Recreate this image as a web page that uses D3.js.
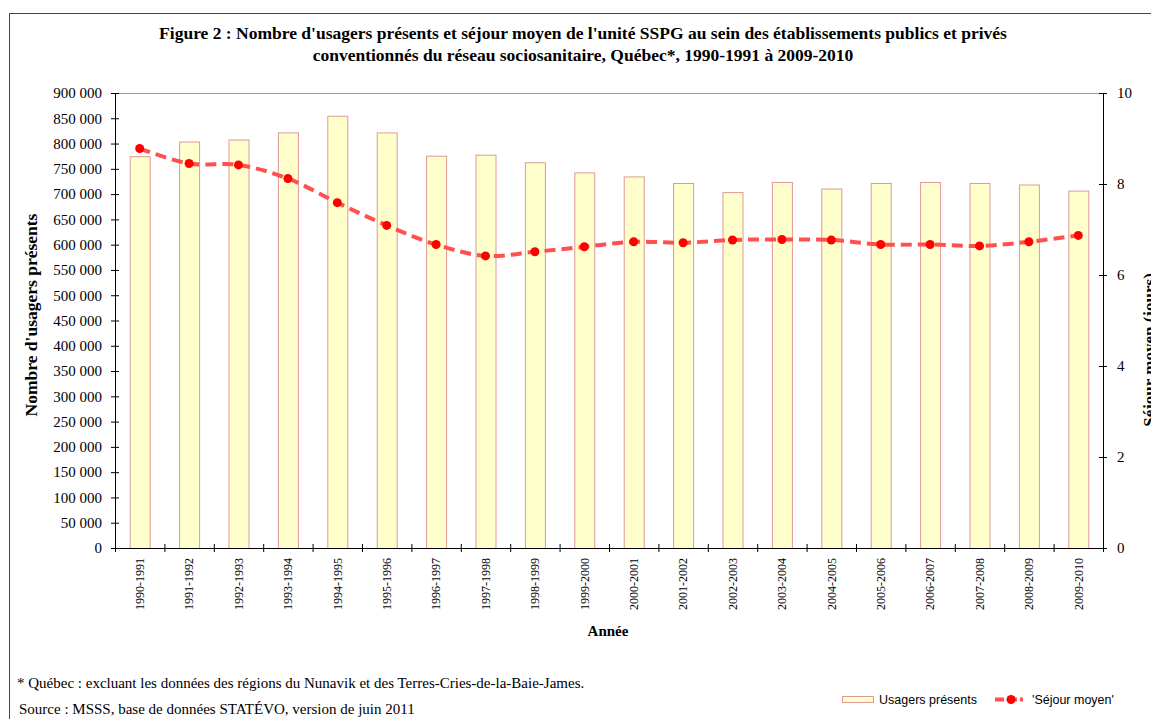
<!DOCTYPE html>
<html>
<head>
<meta charset="utf-8">
<script src="https://cdn.jsdelivr.net/npm/d3@7"></script>
<style>
body{margin:0;background:#fff;}
svg{display:block;}
</style>
</head>
<body>
<div id="chart"></div>
<script>
// data
var annees=['1990-1991','1991-1992','1992-1993','1993-1994','1994-1995','1995-1996','1996-1997','1997-1998','1998-1999','1999-2000',
    '2000-2001','2001-2002','2002-2003','2003-2004','2004-2005','2005-2006','2006-2007','2007-2008','2008-2009','2009-2010'];
var usagers=[775000,804000,808000,822000,855000,822000,776000,778000,763000,743000,
    735000,722000,704000,724000,711000,722000,724000,722000,719000,707000];
var sejour=[8.78,8.45,8.42,8.12,7.59,7.09,6.67,6.42,6.51,6.62,
    6.73,6.71,6.77,6.78,6.77,6.67,6.67,6.64,6.73,6.87];
var ticksGauche=d3.range(0,900001,50000);
var ticksDroite=[0,2,4,6,8,10];

var width=1151,
    height=719,
    pLeft=115,pRight=1103,pTop=93,pBottom=548;

var serif="'Liberation Serif','Times New Roman',serif";
var sans="'Liberation Sans',Arial,sans-serif";

var fr=d3.formatLocale({decimal:",",thousands:" ",grouping:[3],currency:["","$"]});
var fmt=fr.format(",d");

var vis=d3.select("#chart").append("svg")
    .attr("width",width)
    .attr("height",height);

// outer frame
vis.append("rect")
    .attr("x",9.5).attr("y",13.5)
    .attr("width",1160).attr("height",720)
    .attr("fill","none")
    .attr("stroke","#444")
    .attr("stroke-width",1);

var x=d3.scaleBand().domain(annees).range([pLeft,pRight]);
var yL=d3.scaleLinear().domain([0,900000]).range([pBottom,pTop]);
var yR=d3.scaleLinear().domain([0,10]).range([pBottom,pTop]);

// top border of plot area
vis.append("line")
    .attr("x1",pLeft).attr("x2",pRight)
    .attr("y1",pTop+0.5).attr("y2",pTop+0.5)
    .attr("stroke","#999");

// bars
var barW=20;
vis.selectAll(".bar")
    .data(usagers)
  .enter()
    .append("rect")
    .attr("class","bar")
    .attr("x",function(d,i){return x(annees[i])+x.bandwidth()/2-barW/2+0.5;})
    .attr("y",function(d){return yL(d)+0.5;})
    .attr("width",barW)
    .attr("height",function(d){return pBottom-yL(d);})
    .attr("fill","#ffffcc")
    .attr("stroke","#e09898")
    .attr("stroke-width",1);

// axes
var axG=vis.append("g")
    .attr("transform","translate("+pLeft+",0)")
    .call(d3.axisLeft(yL).tickValues(ticksGauche).tickFormat(fmt).tickSizeInner(4).tickSizeOuter(0));
axG.selectAll(".tick line").attr("x2",4).attr("x1",-4);
axG.selectAll(".tick text").attr("x",-13);

var axD=vis.append("g")
    .attr("transform","translate("+pRight+",0)")
    .call(d3.axisRight(yR).tickValues(ticksDroite).tickSizeInner(4).tickSizeOuter(0));
axD.selectAll(".tick line").attr("x1",-4).attr("x2",4);
axD.selectAll(".tick text").attr("x",14);

var axX=vis.append("g")
    .attr("transform","translate(0,"+pBottom+")")
    .call(d3.axisBottom(x).tickSize(0));
axX.selectAll(".tick text")
    .attr("transform","rotate(-90)")
    .attr("x",-10).attr("y",0).attr("dy","0.35em")
    .style("text-anchor","end");

// boundary ticks on x axis
var bornes=annees.map(function(d){return x(d);}).concat([pRight]);
vis.selectAll(".xt")
    .data(bornes)
  .enter()
    .append("line")
    .attr("x1",function(d){return d+0.5;}).attr("x2",function(d){return d+0.5;})
    .attr("y1",pBottom-4).attr("y2",pBottom+4)
    .attr("stroke","#000");

vis.selectAll(".domain").attr("stroke","#000");
vis.selectAll(".tick line").attr("stroke","#000");
axG.selectAll("text").attr("font-family",serif).attr("font-size","15px").attr("fill","#000");
axD.selectAll("text").attr("font-family",serif).attr("font-size","15px").attr("fill","#000");
axX.selectAll("text").attr("font-family",serif).attr("font-size","12px").attr("fill","#000");

// line
var ligne=d3.line()
    .x(function(d,i){return x(annees[i])+x.bandwidth()/2;})
    .y(function(d){return yR(d);})
    .curve(d3.curveCatmullRom.alpha(0.5));

vis.append("path")
    .datum(sejour)
    .attr("d",ligne)
    .attr("fill","none")
    .attr("stroke","#ff5050")
    .attr("stroke-width",4)
    .attr("stroke-dasharray","11,6");

vis.selectAll(".pt")
    .data(sejour)
  .enter()
    .append("circle")
    .attr("cx",function(d,i){return x(annees[i])+x.bandwidth()/2;})
    .attr("cy",function(d){return yR(d);})
    .attr("r",4.5)
    .attr("fill","#ff0000");

// titles
var titre=vis.append("text")
    .attr("text-anchor","middle")
    .attr("font-family",serif)
    .attr("font-weight","bold")
    .attr("font-size","17.5px");
titre.append("tspan").attr("x",583).attr("y",39)
    .text("Figure 2 : Nombre d'usagers présents et séjour moyen de l'unité SSPG au sein des établissements publics et privés");
titre.append("tspan").attr("x",583).attr("y",61)
    .text("conventionnés du réseau sociosanitaire, Québec*, 1990-1991 à 2009-2010");

vis.append("text")
    .attr("transform","translate(37,315) rotate(-90)")
    .attr("text-anchor","middle")
    .attr("font-family",serif).attr("font-weight","bold").attr("font-size","17.5px")
    .text("Nombre d'usagers présents");

vis.append("text")
    .attr("transform","translate(1155,350) rotate(-90)")
    .attr("text-anchor","middle")
    .attr("font-family",serif).attr("font-weight","bold").attr("font-size","17px")
    .text("Séjour moyen (jours)");

vis.append("text")
    .attr("x",608).attr("y",636)
    .attr("text-anchor","middle")
    .attr("font-family",serif).attr("font-weight","bold").attr("font-size","15px")
    .text("Année");

// footnotes
vis.append("text")
    .attr("x",17).attr("y",688)
    .attr("font-family",serif).attr("font-size","15px")
    .text("* Québec : excluant les données des régions du Nunavik et des Terres-Cries-de-la-Baie-James.");
vis.append("text")
    .attr("x",19).attr("y",714)
    .attr("font-family",serif).attr("font-size","15px")
    .text("Source : MSSS, base de données STATÉVO, version de juin 2011");

// legend
vis.append("rect")
    .attr("x",842.5).attr("y",696.5)
    .attr("width",31).attr("height",6)
    .attr("fill","#ffffcc").attr("stroke","#e09898");
vis.append("text")
    .attr("x",879).attr("y",704)
    .attr("font-family",sans).attr("font-size","12.5px")
    .text("Usagers présents");
vis.append("line")
    .attr("x1",995).attr("x2",1028)
    .attr("y1",699.5).attr("y2",699.5)
    .attr("stroke","#ff5050").attr("stroke-width",4)
    .attr("stroke-dasharray","9,4,9,3,3");
vis.append("circle")
    .attr("cx",1011).attr("cy",699.5).attr("r",4.5)
    .attr("fill","#ff0000");
vis.append("text")
    .attr("x",1032).attr("y",704)
    .attr("font-family",sans).attr("font-size","12.5px")
    .text("'Séjour moyen'");
</script>
</body>
</html>
